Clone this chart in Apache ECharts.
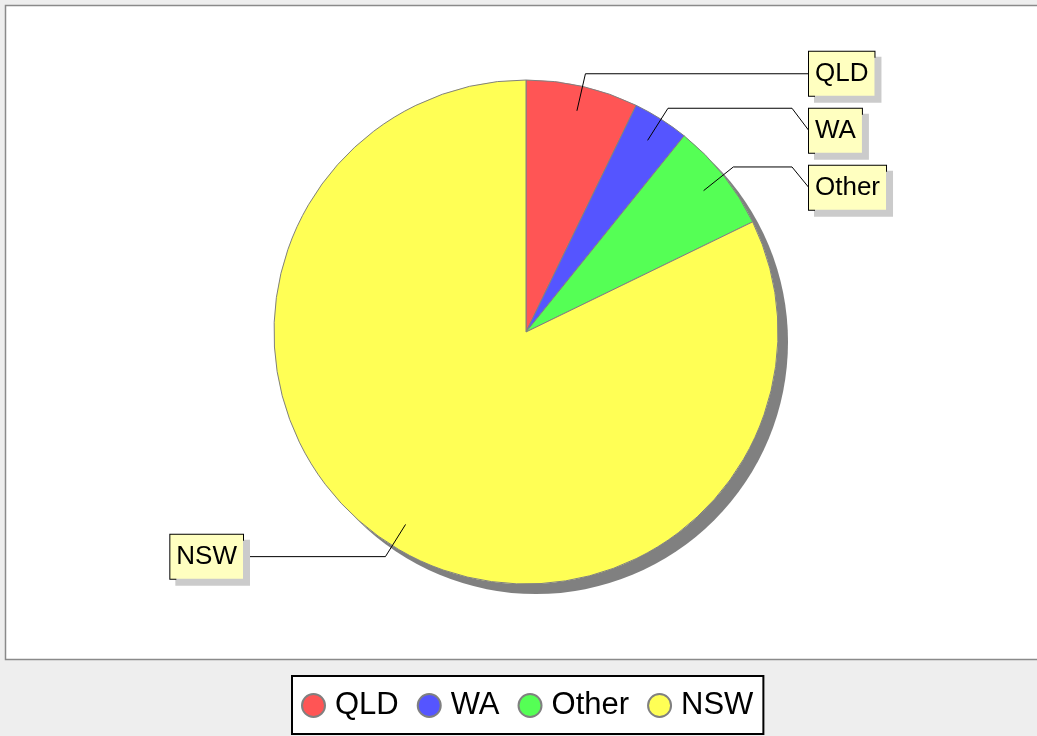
<!DOCTYPE html>
<html>
<head>
<meta charset="UTF-8">
<title>Pie</title>
<script src="https://cdn.jsdelivr.net/npm/echarts@6/dist/echarts.min.js"></script>
<style>
  html, body { margin: 0; padding: 0; background: #eeeeee; }
  #main { width: 1037px; height: 736px; }
</style>
</head>
<body>
<div id="main"></div>
<script>
// data (share of the pie, %)
var categories = ['QLD', 'WA', 'Other', 'NSW'];
var values = [7.2, 3.6, 7.0, 82.2];
var colors = ['#ff5555', '#5555ff', '#55ff55', '#ffff55'];

var cx = 526, cy = 332, R = 252;
var chart = echarts.init(document.getElementById('main'));

var pieData = categories.map(function (name, i) {
  return { name: name, value: values[i], itemStyle: { color: colors[i] } };
});
var labelData = categories.map(function (name, i) {
  return { name: name, value: values[i] };
});

// simple top-to-bottom stacking of the label boxes on each side
var lastBottom = { left: -Infinity, right: -Infinity };
function placeLabel(p) {
  var pts = p.labelLinePoints;
  if (!pts) return {};
  if (p.dataIndex === 0) lastBottom = { left: -Infinity, right: -Infinity };
  var elbow = pts[1];
  var right = elbow[0] >= cx;
  var side = right ? 'right' : 'left';
  var h = p.labelRect.height;
  var y = Math.max(elbow[1], lastBottom[side] + 11 + h / 2);
  lastBottom[side] = y + h / 2;
  var dir = right ? 1 : -1;
  var colX = cx + dir * 266;
  var boxX = cx + dir * 283;
  return {
    x: boxX,
    y: y,
    align: right ? 'left' : 'right',
    verticalAlign: 'middle',
    labelLinePoints: [pts[0], elbow, [colX, elbow[1]], [boxX, y]]
  };
}

var option = {
  backgroundColor: '#eeeeee',
  animation: false,
  graphic: [{
    type: 'rect',
    z: -10,
    shape: { x: 5.5, y: 5.5, width: 1040, height: 654 },
    style: { fill: '#ffffff', stroke: '#8a8a8a', lineWidth: 1.5 }
  }],
  legend: {
    data: categories,
    left: 292,
    top: 676,
    orient: 'horizontal',
    icon: 'circle',
    itemWidth: 23,
    itemHeight: 23,
    itemGap: 18,
    padding: [14, 10, 13, 9],
    backgroundColor: '#ffffff',
    borderColor: '#000000',
    borderWidth: 2,
    borderRadius: 0,
    textStyle: {
      fontFamily: 'Liberation Sans',
      fontSize: 31,
      color: '#000000',
      padding: [0, 0, 0, 5]
    }
  },
  series: [
    {
      // main pie
      name: 'main',
      type: 'pie',
      z: 3,
      center: [cx, cy],
      radius: R,
      startAngle: 90,
      clockwise: true,
      silent: true,
      label: { show: false },
      labelLine: { show: false },
      itemStyle: { borderColor: '#808080', borderWidth: 1 },
      data: pieData
    },
    {
      // transparent pie, only carries the labels (lines start inside the slices)
      name: 'labels',
      type: 'pie',
      z: 4,
      center: [cx, cy],
      radius: R - 25,
      startAngle: 90,
      clockwise: true,
      silent: true,
      avoidLabelOverlap: false,
      itemStyle: { color: 'rgba(0,0,0,0)', borderWidth: 0 },
      label: {
        show: true,
        position: 'outside',
        fontFamily: 'Liberation Sans',
        fontSize: 26,
        lineHeight: 32,
        color: '#000000',
        backgroundColor: '#ffffc0',
        borderColor: '#000000',
        borderWidth: 1,
        padding: [6, 6, 6, 6],
        shadowColor: '#cbcbcb',
        shadowBlur: 0,
        shadowOffsetX: 6,
        shadowOffsetY: 6
      },
      labelLine: {
        show: true,
        length: 38,
        length2: 20,
        lineStyle: { color: '#000000', width: 1 }
      },
      labelLayout: placeLabel,
      data: labelData
    },
    {
      // shadow under the pie
      name: 'shadow',
      type: 'pie',
      z: 1,
      center: [cx, cy],
      radius: R,
      silent: true,
      label: { show: false },
      labelLine: { show: false },
      itemStyle: {
        color: '#ffffff',
        shadowColor: '#808080',
        shadowBlur: 0,
        shadowOffsetX: 10,
        shadowOffsetY: 10
      },
      data: [{ name: '', value: 1 }]
    }
  ]
};

chart.setOption(option);
</script>
</body>
</html>
